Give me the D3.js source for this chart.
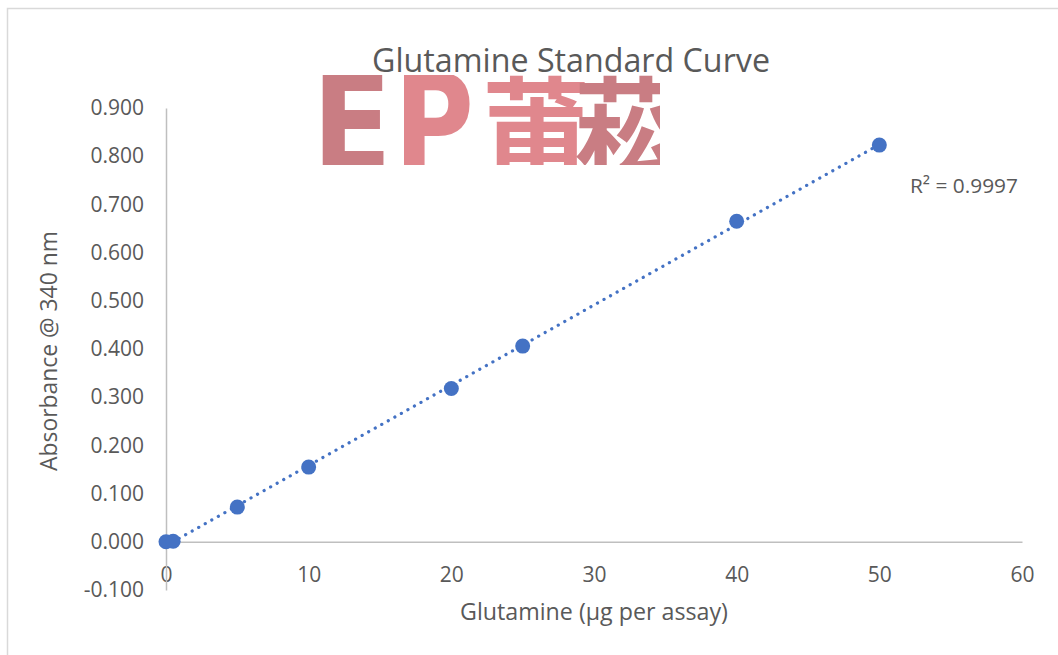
<!DOCTYPE html>
<html>
  <head>
    <meta charset="utf-8">
    <title>Glutamine Standard Curve</title>
    <script src="https://cdnjs.cloudflare.com/ajax/libs/d3/7.8.5/d3.min.js"></script>
    <style>
      body { margin: 0; background: #fff; }
      svg { display: block; font-family: "Open Sans", "Liberation Sans", sans-serif; }
      .tick text { fill: #595959; font-size: 21px; }
    </style>
  </head>
  <body>
    <div id="chart"></div>
    <script>
      // data
      var glutamine = [0, 0.5, 5, 10, 20, 25, 40, 50];
      var absorbance = [0.000, 0.001, 0.072, 0.155, 0.318, 0.406, 0.665, 0.823];
      var xTicks = [0, 10, 20, 30, 40, 50, 60];
      var yTicks = [-0.1, 0, 0.1, 0.2, 0.3, 0.4, 0.5, 0.6, 0.7, 0.8, 0.9];
      var rSquaredLabel = "R\u00b2 = 0.9997";

      var W = 1058, H = 655;
      var svg = d3.select("#chart").append("svg")
        .attr("width", W).attr("height", H);

      // chart area border (only top and left visible)
      svg.append("path")
        .attr("d", "M7.5,655 L7.5,8.5 L1058,8.5")
        .attr("fill", "none").attr("stroke", "#d9d9d9").attr("stroke-width", 1.5);

      var xScale = d3.scaleLinear().domain([0, 60]).range([166, 1022]);
      var yScale = d3.scaleLinear().domain([-0.1, 0.9]).range([590, 108]);

      // fit text font size to a measured width
      function fit(sel, target) {
        var fs = parseFloat(sel.attr("font-size"));
        var w = sel.node().getComputedTextLength();
        sel.attr("font-size", fs * target / w);
      }

      // watermark logo (cropped)
      var clip = svg.append("clipPath").attr("id", "wm");
      clip.append("rect").attr("x", 317).attr("y", 75).attr("width", 343).attr("height", 90);
      var wm = svg.append("g").attr("clip-path", "url(#wm)");
      wm.append("text").text("E")
        .attr("x", 312).attr("y", 170)
        .attr("font-family", "DejaVu Sans").attr("font-weight", "bold")
        .attr("font-size", 134).attr("textLength", 80).attr("lengthAdjust", "spacingAndGlyphs")
        .attr("fill", "#c97d83");
      wm.append("text").text("P")
        .attr("x", 394).attr("y", 170)
        .attr("font-family", "DejaVu Sans").attr("font-weight", "bold")
        .attr("font-size", 134).attr("textLength", 80).attr("lengthAdjust", "spacingAndGlyphs")
        .attr("fill", "#e0878d");
      wm.append("text").text("莆")
        .attr("x", 482).attr("y", 168)
        .attr("font-family", "Noto Sans CJK SC").attr("font-weight", "bold")
        .attr("font-size", 108)
        .attr("fill", "#e0878d");
      wm.append("text").text("菘")
        .attr("x", 574).attr("y", 168)
        .attr("font-family", "Noto Sans CJK SC").attr("font-weight", "bold")
        .attr("font-size", 108)
        .attr("fill", "#c97d83");

      // title
      svg.append("text").text("Glutamine Standard Curve")
        .attr("x", 571).attr("y", 72)
        .attr("text-anchor", "middle").attr("font-size", 28)
        .attr("fill", "#595959")
        .call(fit, 398);

      // axes
      var xAxis = d3.axisBottom(xScale).tickValues(xTicks).tickSize(0).tickPadding(25)
        .tickFormat(d3.format("d"));
      var xAxisGroup = svg.append("g")
        .attr("transform", "translate(0," + yScale(0) + ")")
        .call(xAxis);
      xAxisGroup.select(".domain").attr("stroke", "#bfbfbf").attr("stroke-width", 1.5);

      var yAxis = d3.axisLeft(yScale).tickValues(yTicks).tickSize(0).tickPadding(22)
        .tickFormat(d3.format(".3f"));
      var yAxisGroup = svg.append("g")
        .attr("transform", "translate(" + xScale(0) + ",0)")
        .call(yAxis);
      yAxisGroup.select(".domain").attr("stroke", "#bfbfbf").attr("stroke-width", 1.5);
      yAxisGroup.selectAll(".tick text").text(function(d) { return d3.format(".3f")(d).replace("\u2212", "-"); });

      svg.selectAll(".tick text").attr("font-family", "Open Sans");

      // axis titles
      svg.append("text").text("Absorbance @ 340 nm")
        .attr("transform", "translate(57," + 351 + ") rotate(-90)")
        .attr("text-anchor", "middle").attr("font-size", 20)
        .attr("fill", "#595959")
        .call(fit, 240);
      svg.append("text").text("Glutamine (\u00b5g per assay)")
        .attr("x", 594).attr("y", 620)
        .attr("text-anchor", "middle").attr("font-size", 20)
        .attr("fill", "#595959")
        .call(fit, 268);

      // linear trendline (least squares)
      var mx = d3.mean(glutamine), my = d3.mean(absorbance);
      var sxy = d3.sum(glutamine, function(x, i) { return (x - mx) * (absorbance[i] - my); });
      var sxx = d3.sum(glutamine, function(x) { return (x - mx) * (x - mx); });
      var slope = sxy / sxx, intercept = my - slope * mx;
      var xExt = d3.extent(glutamine);
      svg.append("line")
        .attr("x1", xScale(xExt[0])).attr("y1", yScale(intercept + slope * xExt[0]))
        .attr("x2", xScale(xExt[1])).attr("y2", yScale(intercept + slope * xExt[1]))
        .attr("stroke", "#4472c4").attr("stroke-width", 3.2)
        .attr("stroke-linecap", "round").attr("stroke-dasharray", "0.1,7.4");

      // points
      svg.selectAll(".pt").data(glutamine).enter().append("circle")
        .attr("class", "pt")
        .attr("cx", function(d) { return xScale(d); })
        .attr("cy", function(d, i) { return yScale(absorbance[i]); })
        .attr("r", 7.5)
        .attr("fill", "#4472c4");

      // R squared label
      svg.append("text").text(rSquaredLabel)
        .attr("x", 910).attr("y", 193)
        .attr("font-size", 20).attr("fill", "#595959")
        .call(fit, 108);
    </script>
  </body>
</html>
